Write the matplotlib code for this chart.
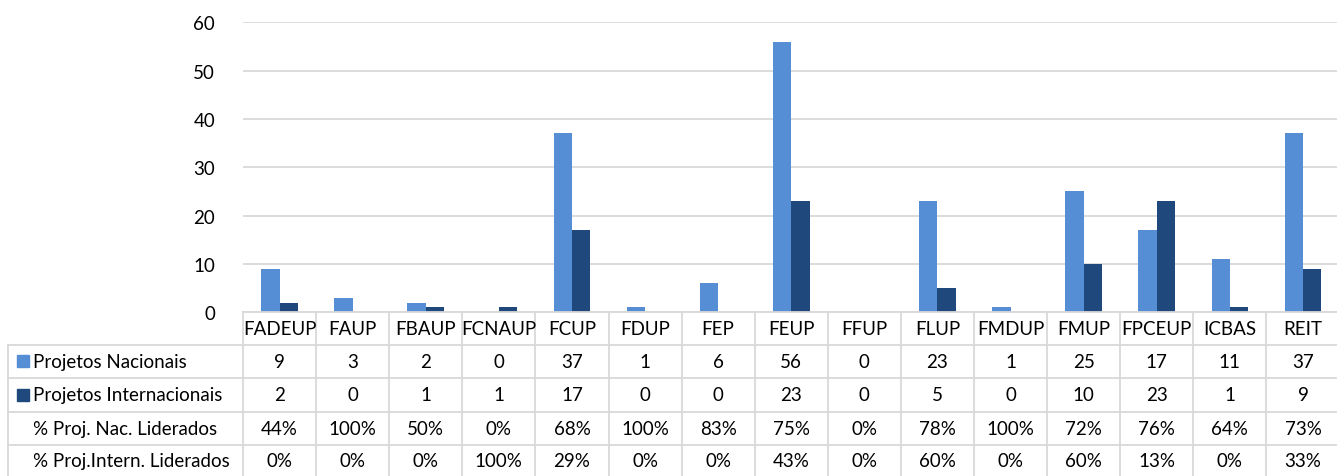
import numpy as np
import matplotlib
matplotlib.use('Agg')
import matplotlib.pyplot as plt

# ~~~~~~~~~~~~ data ~~~~~~~~~~~~
faculdades = ['FADEUP', 'FAUP', 'FBAUP', 'FCNAUP', 'FCUP', 'FDUP', 'FEP', 'FEUP',
              'FFUP', 'FLUP', 'FMDUP', 'FMUP', 'FPCEUP', 'ICBAS', 'REIT']
nacionais = [9, 3, 2, 0, 37, 1, 6, 56, 0, 23, 1, 25, 17, 11, 37]
internacionais = [2, 0, 1, 1, 17, 0, 0, 23, 0, 5, 0, 10, 23, 1, 9]
pct_nac = [44, 100, 50, 0, 68, 100, 83, 75, 0, 78, 100, 72, 76, 64, 73]
pct_int = [0, 0, 0, 100, 29, 0, 0, 43, 0, 60, 0, 60, 13, 0, 33]
row_names = ['Projetos Nacionais', 'Projetos Internacionais',
             '% Proj. Nac. Liderados', '% Proj.Intern. Liderados']
yticks = [0, 10, 20, 30, 40, 50, 60]

c_nac = '#558ED5'
c_int = '#1F497D'
grid_c = '#D9D9D9'
txt_c = '#000000'
plt.rcParams['font.family'] = ['Lato', 'DejaVu Sans']

W, H = 1337, 477
fig = plt.figure(figsize=(W/100, H/100), dpi=100)

# pixel layout
x0 = 243.0      # left of first column
cw = 73.1       # column width
y_zero = 313.3
y_top = 23.3
ncol = len(faculdades)

ax = fig.add_axes([x0/W, 1 - y_zero/H, ncol*cw/W, (y_zero - y_top)/H])
x = np.arange(ncol)
bw = 0.25
ax.bar(x - bw/2, nacionais, bw, color=c_nac)
ax.bar(x + bw/2, internacionais, bw, color=c_int)
ax.set_xlim(-0.5, ncol - 0.5)
ax.set_ylim(0, 60)
ax.set_yticks(yticks)
ax.set_xticks([])
ax.yaxis.grid(True, color=grid_c, linewidth=1.3)
ax.set_axisbelow(True)
for s in ax.spines.values():
    s.set_visible(False)
ax.tick_params(axis='y', length=0, pad=20, labelsize=13.5, labelcolor='#000000')

# ~~~~~~~~~~~~ data table ~~~~~~~~~~~~
tb = fig.add_axes([0, 0, 1, 1])
tb.set_xlim(0, W)
tb.set_ylim(H, 0)
tb.axis('off')
tb.patch.set_alpha(0)

row_y = [313.3, 345.5, 379, 412.5, 446, 480]
x_left = 8
x_right = x0 + ncol*cw
lw = 1.3
# horizontal lines
tb.plot([x0, x_right], [row_y[0], row_y[0]], color=grid_c, lw=lw)
for yy in row_y[1:5]:
    tb.plot([x_left, x_right], [yy, yy], color=grid_c, lw=lw)
# vertical lines
tb.plot([x_left, x_left], [row_y[1], row_y[5]], color=grid_c, lw=lw)
for k in range(ncol + 1):
    xx = x0 + k*cw
    tb.plot([xx, xx], [row_y[0], row_y[5]], color=grid_c, lw=lw)

fs = 13.5
# header
for k, name in enumerate(faculdades):
    tb.text(x0 + (k + 0.5)*cw, (row_y[0] + row_y[1])/2, name, ha='center', va='center',
            fontsize=fs, color=txt_c)
rows = [[str(v) for v in nacionais], [str(v) for v in internacionais],
        [f'{v}%' for v in pct_nac], [f'{v}%' for v in pct_int]]
for r, vals in enumerate(rows):
    yc = (row_y[r+1] + row_y[r+2])/2
    if r == 3:
        yc = (row_y[4] + 477)/2
    tb.text(33, yc, row_names[r], ha='left', va='center', fontsize=fs, color=txt_c)
    for k, v in enumerate(vals):
        tb.text(x0 + (k + 0.5)*cw, yc, v, ha='center', va='center', fontsize=fs, color=txt_c)
# legend keys
for r, c in enumerate([c_nac, c_int]):
    yc = (row_y[r+1] + row_y[r+2])/2
    tb.add_patch(plt.Rectangle((17, yc - 6), 12, 12, color=c))

fig.savefig('out.png', dpi=100)
